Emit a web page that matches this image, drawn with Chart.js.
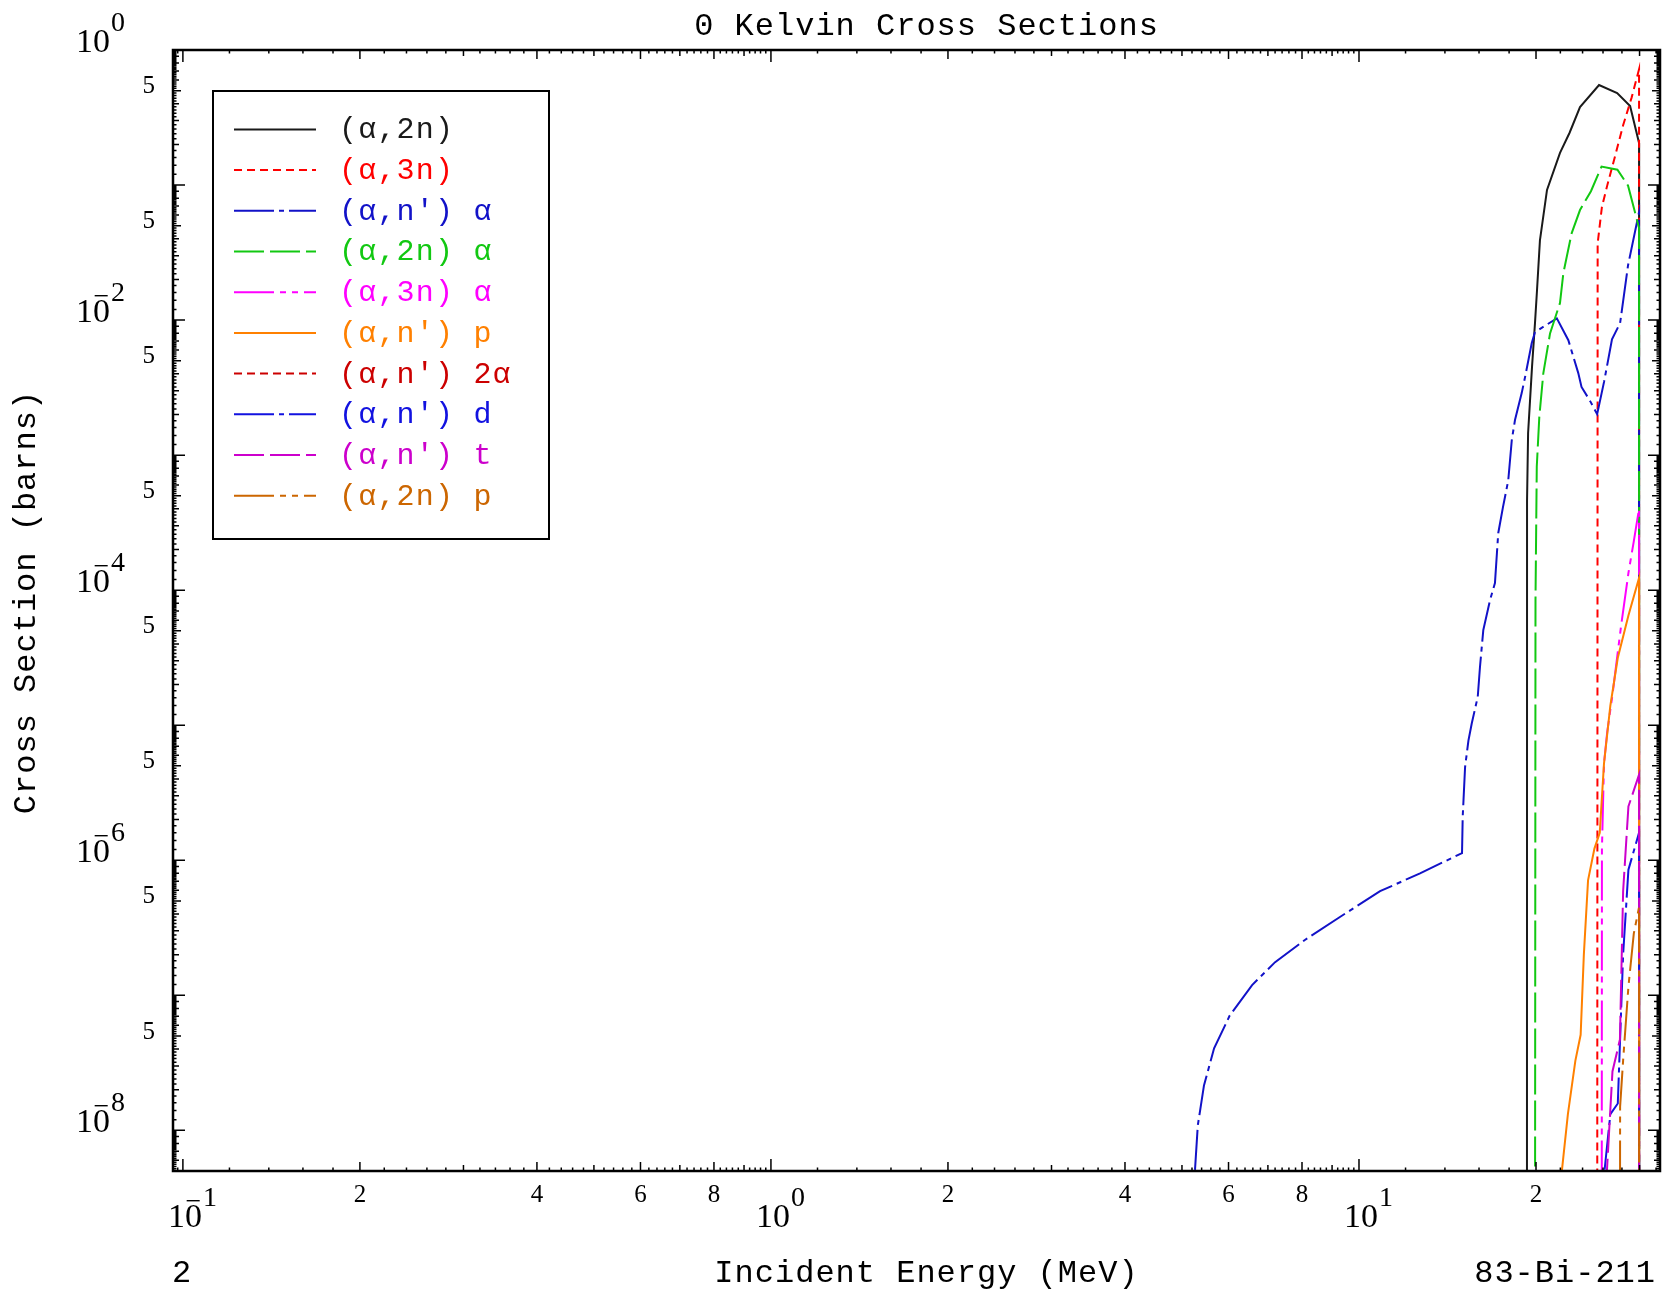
<!DOCTYPE html>
<html><head><meta charset="utf-8">
<script src="https://cdn.jsdelivr.net/npm/chart.js@4.4.1/dist/chart.umd.min.js"></script>
<style>html,body{margin:0;padding:0;background:#fff;overflow:hidden}canvas{display:block}</style>
</head><body>
<canvas id="c" width="1663" height="1294" style="width:1663px;height:1294px"></canvas>
<script>
// ---------- data (energies in MeV, cross sections in barns) ----------
const seriesLabels = ["(α,2n)", "(α,3n)", "(α,n') α", "(α,2n) α", "(α,3n) α", "(α,n') p", "(α,n') 2α", "(α,n') d", "(α,n') t", "(α,2n) p"];

const e_a2n  = [19.30, 19.31, 19.39, 19.69, 19.92, 20.08, 20.31, 20.88, 21.97, 22.81, 23.76, 25.60, 27.48, 28.91, 29.94, 29.95];
const xs_a2n = [1e-12, 4.6e-4, 1.46e-3, 4.5e-3, 9.5e-3, 1.67e-2, 3.9e-2, 9.2e-2, 0.173, 0.244, 0.378, 0.55, 0.48, 0.385, 0.205, 1e-12];

const e_a3n  = [25.40, 25.46, 25.89, 26.43, 27.32, 28.13, 29.08, 29.94, 29.95];
const xs_a3n = [1e-12, 0.037, 0.069, 0.099, 0.17, 0.277, 0.444, 0.72, 1e-12];

const e_anpa  = [5.20, 5.26, 5.32, 5.45, 5.67, 6.03, 6.58, 7.20, 8.09, 9.28, 10.86, 12.70, 14.97, 15.01, 15.15, 15.35, 15.55, 15.92, 16.06, 16.27, 16.70, 17.03, 17.25, 17.57, 17.94, 18.19, 18.42, 18.91, 19.16, 19.67, 19.92, 21.70, 22.70, 23.60, 23.90, 24.74, 25.41, 26.11, 26.93, 27.80, 28.68, 29.94, 29.95];
const xs_anpa = [2e-9, 5e-9, 1.09e-8, 2.15e-8, 4.05e-8, 7.1e-8, 1.19e-7, 1.76e-7, 2.57e-7, 3.8e-7, 5.9e-7, 8.0e-7, 1.13e-6, 2.1e-6, 4.9e-6, 7.7e-6, 1.03e-5, 1.62e-5, 2.7e-5, 5.06e-5, 8.4e-5, 1.13e-4, 2.64e-4, 4.1e-4, 6.5e-4, 1.29e-3, 1.82e-3, 2.88e-3, 3.78e-3, 6.76e-3, 8.15e-3, 1.03e-2, 7.1e-3, 4.05e-3, 3.2e-3, 2.5e-3, 2.01e-3, 3.5e-3, 7.2e-3, 9.5e-3, 2.55e-2, 6.3e-2, 1e-12];

const e_a2na  = [19.90, 19.96, 20.06, 20.26, 20.58, 21.13, 21.97, 22.26, 23.00, 23.76, 24.80, 25.85, 27.51, 28.68, 29.94, 29.95];
const xs_a2na = [1e-12, 8.4e-5, 8.2e-4, 1.92e-3, 4.03e-3, 7.97e-3, 1.34e-2, 2.23e-2, 4.41e-2, 6.53e-2, 9.0e-2, 0.137, 0.13, 9.9e-2, 4.8e-2, 1e-12];

const e_a3na  = [25.85, 25.89, 26.10, 26.43, 26.98, 27.90, 28.72, 29.33, 29.94, 29.95];
const xs_a3na = [1e-12, 1.2e-6, 5.2e-6, 8.9e-6, 1.68e-5, 5.4e-5, 1.34e-4, 2.3e-4, 4.0e-4, 1e-12];

const e_anpp  = [22.0, 22.13, 22.66, 23.33, 23.82, 24.12, 24.52, 25.14, 25.67, 26.10, 26.76, 27.55, 28.72, 29.94, 29.95];
const xs_anpp = [2e-9, 5e-9, 1.32e-8, 3.27e-8, 5.1e-8, 2.0e-7, 7.1e-7, 1.22e-6, 1.6e-6, 5.2e-6, 1.4e-5, 3.16e-5, 6.5e-5, 1.23e-4, 1e-12];

const e_anp2a  = [];
const xs_anp2a = [];

const e_anpd  = [26.10, 26.15, 26.76, 27.55, 28.13, 28.72, 29.94, 29.95];
const xs_anpd = [2e-9, 5e-9, 1.32e-8, 1.58e-8, 2.0e-7, 8.5e-7, 1.6e-6, 1e-12];

const e_anpt  = [26.35, 26.40, 26.98, 27.78, 28.13, 28.72, 29.94, 29.95];
const xs_anpt = [2e-9, 5e-9, 2.73e-8, 4.7e-8, 5.9e-7, 2.5e-6, 4.3e-6, 1e-12];

const e_a2np  = [27.75, 27.80, 28.13, 28.72, 29.33, 29.94, 29.95];
const xs_a2np = [1e-12, 1.5e-8, 3.3e-8, 1.16e-7, 2.86e-7, 4.5e-7, 1e-12];

// tick labels
const xDecadeExps = [-1, 0, 1];
const xMinorLabels = [2, 4, 6, 8];
const yDecadeExps = [0, -2, -4, -6, -8];
const yMinorLabels = [5];

// ---------- styles ----------
const seriesColors = ["#1a1a1a", "#ff0000", "#1212c8", "#12c812", "#ff00ff", "#ff8000", "#cc0000", "#1212e0", "#cc00cc", "#cc6600"];
const seriesDash = [[], [8, 5], [40, 5, 5, 5], [30, 6], [40, 6, 6, 6, 6, 6], [], [8, 5], [40, 5, 5, 5], [30, 6], [40, 6, 6, 6, 6, 6]];
const energies = [e_a2n, e_a3n, e_anpa, e_a2na, e_a3na, e_anpp, e_anp2a, e_anpd, e_anpt, e_a2np];
const sections = [xs_a2n, xs_a3n, xs_anpa, xs_a2na, xs_a3na, xs_anpp, xs_anp2a, xs_anpd, xs_anpt, xs_a2np];

const X_MIN = 0.0962, X_MAX = 32.5, Y_MIN = 5e-9, Y_MAX = 1;

const datasets = seriesLabels.map((lab, i) => ({
  label: lab,
  data: energies[i].map((e, j) => ({x: e, y: sections[i][j]})),
  borderColor: seriesColors[i],
  borderDash: seriesDash[i],
  borderWidth: 2,
  pointRadius: 0,
  tension: 0,
  fill: false,
  order: -i
}));

const MONO = '"Liberation Mono", "DejaVu Sans Mono", monospace';
const SERIF = '"Liberation Serif", "DejaVu Serif", serif';

function logTicks(min, max) {
  const out = [];
  for (let k = Math.floor(Math.log10(min)) - 1; k <= Math.ceil(Math.log10(max)); k++) {
    for (let i = 0; i < 45; i++) {
      const m = Math.round((1 + i * 0.2) * 10) / 10;
      const v = m * Math.pow(10, k);
      if (v < min || v > max) continue;
      out.push({v, m, i});
    }
  }
  return out;
}

function txt(ctx, s, x, y, font, color, align, base, spacing) {
  ctx.font = font;
  ctx.fillStyle = color || '#000';
  ctx.textAlign = align || 'left';
  ctx.textBaseline = base || 'alphabetic';
  try { ctx.letterSpacing = (spacing || 0) + 'px'; } catch (e) {}
  ctx.fillText(s, x, y);
  try { ctx.letterSpacing = '0px'; } catch (e) {}
}

function drawPower(ctx, left, baseline, exp) {
  ctx.font = '34px ' + SERIF;
  const w = ctx.measureText('10').width;
  txt(ctx, '10', left, baseline, '34px ' + SERIF, '#000', 'left');
  if (exp < 0) {
    txt(ctx, '\u2212', left + w * 0.75, baseline - 17, '28px ' + SERIF, '#000', 'center');
  }
  txt(ctx, String(Math.abs(exp)), left + w + 1, baseline - 21, '28px ' + SERIF, '#000', 'left');
  return w;
}

const decor = {
  id: 'decor',
  afterDatasetsDraw(chart) {
    const {ctx, chartArea: a, scales} = chart;
    const xs = scales.x, ys = scales.y;
    ctx.save();
    // frame
    ctx.strokeStyle = '#000';
    ctx.lineWidth = 2.5;
    ctx.strokeRect(a.left, a.top, a.right - a.left, a.bottom - a.top);
    // ticks on all four sides, pointing inward
    ctx.lineWidth = 1.5;
    ctx.beginPath();
    logTicks(X_MIN, X_MAX).forEach(t => {
      const px = xs.getPixelForValue(t.v);
      let len = 3.5;
      if (t.i === 0) len = 12; else if (xMinorLabels.includes(t.m)) len = 9; else if (t.i % 5 === 0) len = 6;
      ctx.moveTo(px, a.bottom); ctx.lineTo(px, a.bottom - len);
      ctx.moveTo(px, a.top); ctx.lineTo(px, a.top + len);
    });
    logTicks(Y_MIN, Y_MAX).forEach(t => {
      const py = ys.getPixelForValue(t.v);
      let len = 3.5;
      if (t.i === 0) len = 12; else if (yMinorLabels.includes(t.m)) len = 8; else if (t.i % 5 === 0) len = 6;
      ctx.moveTo(a.left, py); ctx.lineTo(a.left + len, py);
      ctx.moveTo(a.right, py); ctx.lineTo(a.right - len, py);
    });
    ctx.stroke();

    // x labels
    xDecadeExps.forEach(k => {
      const px = xs.getPixelForValue(Math.pow(10, k));
      ctx.font = '34px ' + SERIF;
      const w = ctx.measureText('10').width;
      drawPower(ctx, px - w / 2 + 2, a.bottom + 56, k);
      xMinorLabels.forEach(m => {
        const v = m * Math.pow(10, k);
        if (v > X_MAX || v < X_MIN) return;
        txt(ctx, String(m), xs.getPixelForValue(v), a.bottom + 24, '25px ' + SERIF, '#000', 'center', 'middle');
      });
    });
    // y labels
    yDecadeExps.forEach(k => {
      const py = ys.getPixelForValue(Math.pow(10, k));
      ctx.font = '34px ' + SERIF;
      const w = ctx.measureText('10').width;
      drawPower(ctx, a.left - 63 - w, py + 2, k);
    });
    for (let k = 0; k >= -9; k--) {
      yMinorLabels.forEach(m => {
        const v = m * Math.pow(10, k - 1);
        if (v > Y_MAX || v < Y_MIN * 1.05) return;
        txt(ctx, String(m), a.left - 18, ys.getPixelForValue(v) - 4, '25px ' + SERIF, '#000', 'right', 'middle');
      });
    }

    // titles
    const cx = (a.left + a.right) / 2 + 10;
    txt(ctx, '0 Kelvin Cross Sections', cx, 27, '32px ' + MONO, '#000', 'center', 'middle', 1);
    txt(ctx, 'Incident Energy (MeV)', cx, 1274, '32px ' + MONO, '#000', 'center', 'middle', 1);
    txt(ctx, '2', 182, 1274, '32px ' + MONO, '#000', 'center', 'middle', 1);
    txt(ctx, '83-Bi-211', 1656, 1274, '32px ' + MONO, '#000', 'right', 'middle', 1);
    ctx.save();
    ctx.translate(27, 602);
    ctx.rotate(-Math.PI / 2);
    txt(ctx, 'Cross Section (barns)', 0, 0, '32px ' + MONO, '#000', 'center', 'middle', 1);
    ctx.restore();

    // legend
    const L = a.left + 40, T = a.top + 41, R = a.left + 376, B = a.top + 489;
    ctx.fillStyle = '#fff';
    ctx.fillRect(L, T, R - L, B - T);
    ctx.strokeStyle = '#000';
    ctx.lineWidth = 2;
    ctx.strokeRect(L, T, R - L, B - T);
    seriesLabels.forEach((lab, i) => {
      const yy = T + 38.4 + i * 40.7;
      ctx.save();
      ctx.strokeStyle = seriesColors[i];
      ctx.lineWidth = 2;
      ctx.setLineDash(seriesDash[i]);
      ctx.beginPath();
      ctx.moveTo(L + 21, yy); ctx.lineTo(L + 103, yy);
      ctx.stroke();
      ctx.restore();
      txt(ctx, lab, L + 126, yy + 1, '30px ' + MONO, seriesColors[i], 'left', 'middle', 1.2);
    });
    ctx.restore();
  }
};

new Chart(document.getElementById('c'), {
  type: 'line',
  data: {datasets},
  options: {
    responsive: false,
    animation: false,
    events: [],
    layout: {padding: {left: 173, top: 50, right: 3, bottom: 123}},
    plugins: {legend: {display: false}, title: {display: false}, tooltip: {enabled: false}},
    scales: {
      x: {type: 'logarithmic', min: X_MIN, max: X_MAX, display: false},
      y: {type: 'logarithmic', min: Y_MIN, max: Y_MAX, display: false}
    }
  },
  plugins: [decor]
});
</script>
</body></html>
